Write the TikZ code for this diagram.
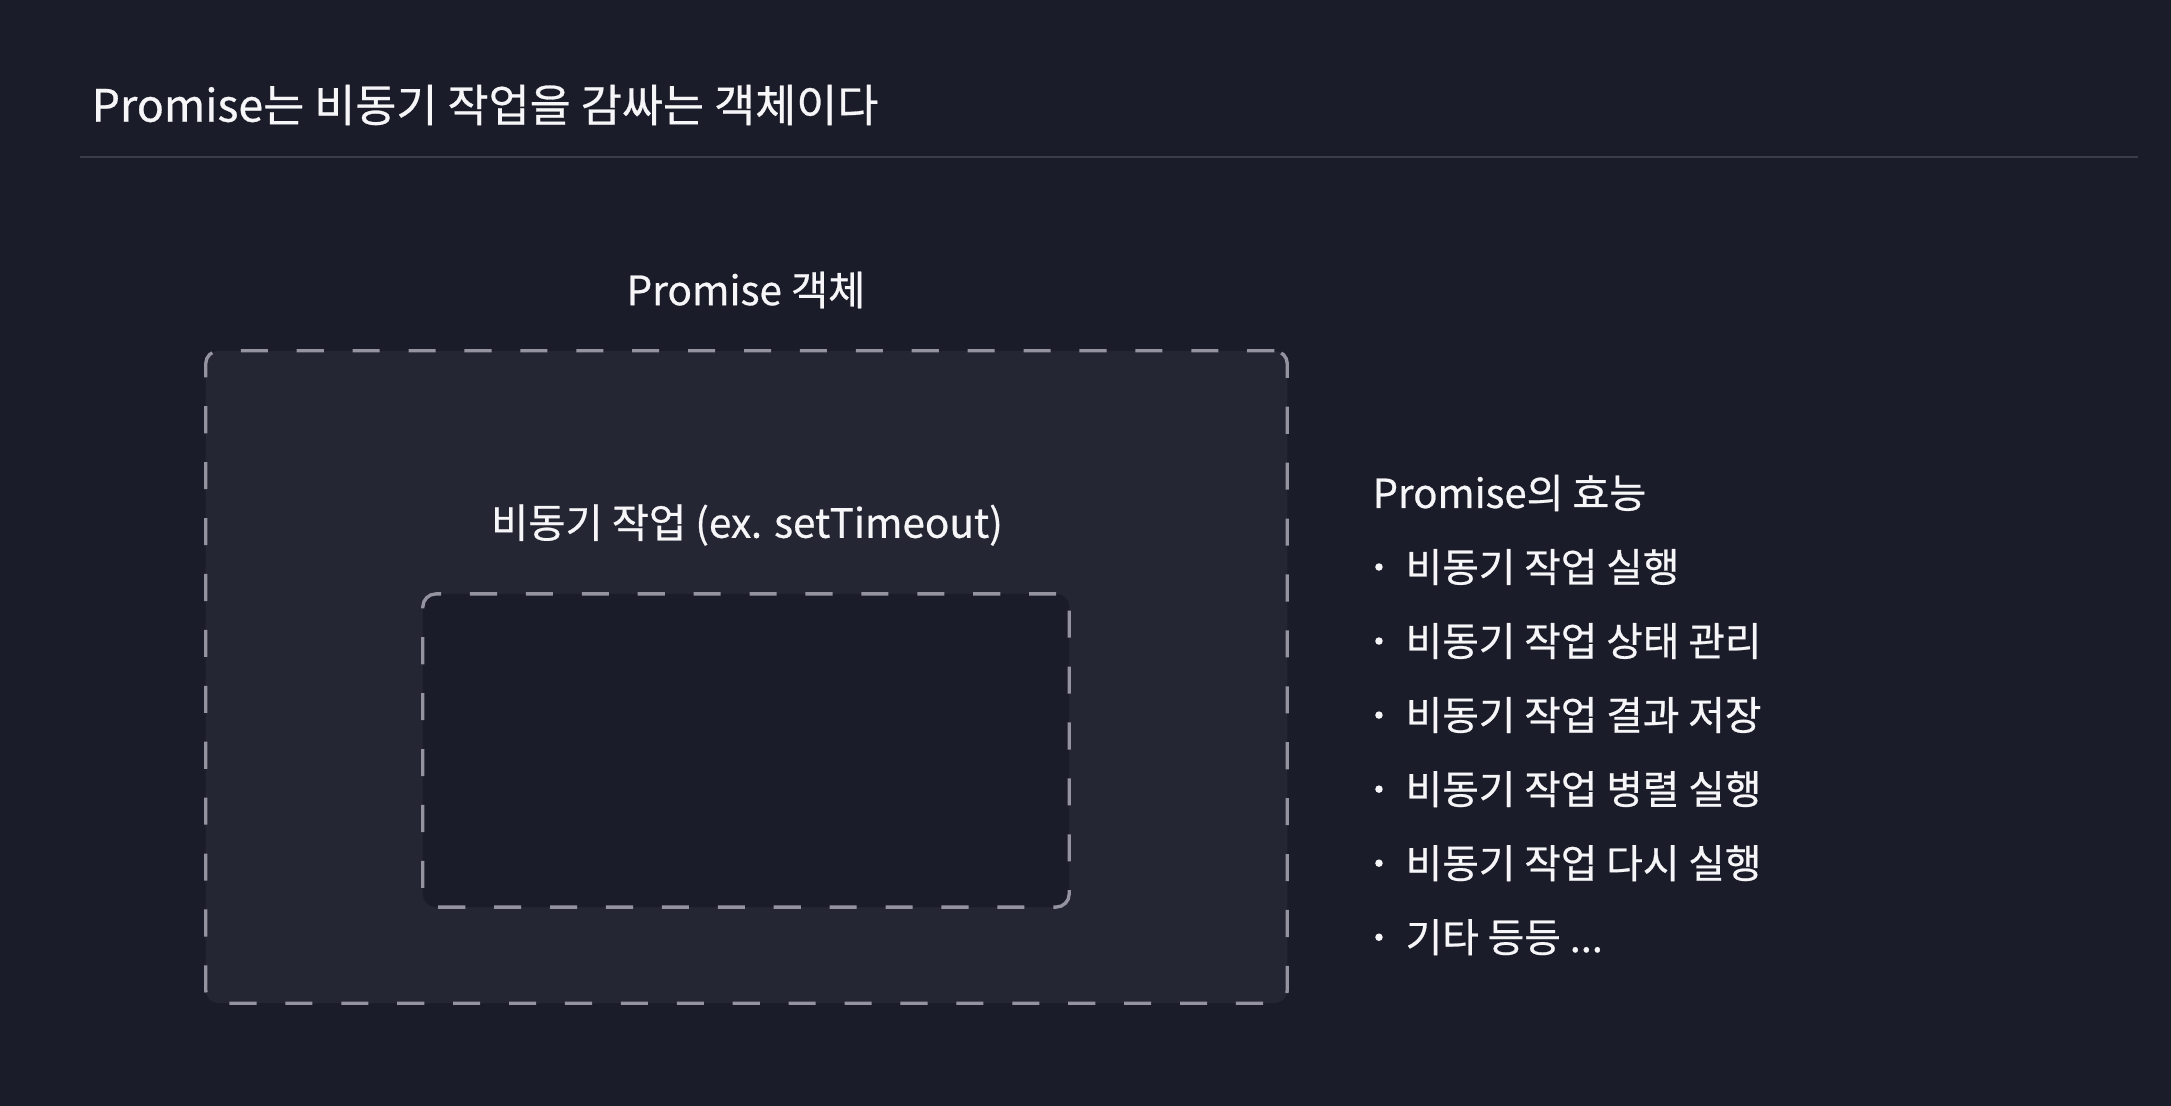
\documentclass[tikz,border=0pt]{standalone}
\usepackage{fontspec}
\setmainfont{Noto Sans CJK KR}[FakeBold=0.6]
\usepackage{tikz}
\usetikzlibrary{positioning}
\newdimen\itemDist
\itemDist=0.74cm

\definecolor{bgcol}{HTML}{1B1C29}
\definecolor{boxcol}{HTML}{252633}
\definecolor{dashcol}{HTML}{9494A0}
\definecolor{rulecol}{HTML}{3A3C48}
\definecolor{txtcol}{HTML}{F6F6F8}

\begin{document}
\begin{tikzpicture}[
    x=0.01cm, y=-0.01cm,
    title/.style={%
      text=txtcol,
      inner sep=0pt,
      anchor=west,
      font=\fontsize{12.7}{15}\selectfont,
    },
    label/.style={%
      text=txtcol,
      inner sep=0pt,
      font=\fontsize{11.5}{14}\selectfont,
    },
    item/.style={%
      text=txtcol,
      inner sep=0pt,
      anchor=west,
      font=\fontsize{11.3}{14}\selectfont,
    },
    dot/.style={%
      circle,
      fill=txtcol,
      inner sep=0pt,
      minimum size=0.075cm,
    },
    dashbox/.style={%
      draw=dashcol,
      line width=0.95pt,
      dash pattern=on 7.7pt off 8.2pt,
      rounded corners=0.13cm,
      rectangle,
      inner sep=0pt,
    },
  ]

    \fill [bgcol] (0,0) rectangle (2171,1106);
    \useasboundingbox (0,0) rectangle (2171,1106);

    \node [title] (T) at (91,105) {Promise는 비동기 작업을 감싸는 객체이다};
    \coordinate (RL) at (80,157);
    \coordinate (RR) at (2138,157);
    \draw [rulecol, line width=0.55pt] (RL) -- (RR);

    \node [dashbox, fill=boxcol, minimum width=10.81cm, minimum height=6.52cm] (P) at (746.5,677) {};
    \node [dashbox, fill=bgcol, minimum width=6.46cm, minimum height=3.13cm] (W) at (746,750.5) {};
    \node [label] (PL) at (746,290) {Promise 객체};
    \node [label] (WL) at (747,525) {비동기 작업 (ex. setTimeout)};

    \node [item, font=\fontsize{11.4}{14}\selectfont] (H) at (1372,493) {Promise의 효능};
    \node [item] (I1) at (1405,567) {비동기 작업 실행};
    \path (I1.west) ++(0,-\itemDist) node [item] (I2) {비동기 작업 상태 관리};
    \path (I2.west) ++(0,-\itemDist) node [item] (I3) {비동기 작업 결과 저장};
    \path (I3.west) ++(0,-\itemDist) node [item] (I4) {비동기 작업 병렬 실행};
    \path (I4.west) ++(0,-\itemDist) node [item] (I5) {비동기 작업 다시 실행};
    \path (I5.west) ++(0,-\itemDist) node [item] (I6) {기타 등등 ...};

    \path (I1.west) ++(-0.26cm,0) node [dot] (D1) {};
    \path (I2.west) ++(-0.26cm,0) node [dot] (D2) {};
    \path (I3.west) ++(-0.26cm,0) node [dot] (D3) {};
    \path (I4.west) ++(-0.26cm,0) node [dot] (D4) {};
    \path (I5.west) ++(-0.26cm,0) node [dot] (D5) {};
    \path (I6.west) ++(-0.26cm,0) node [dot] (D6) {};

\end{tikzpicture}
\end{document}
